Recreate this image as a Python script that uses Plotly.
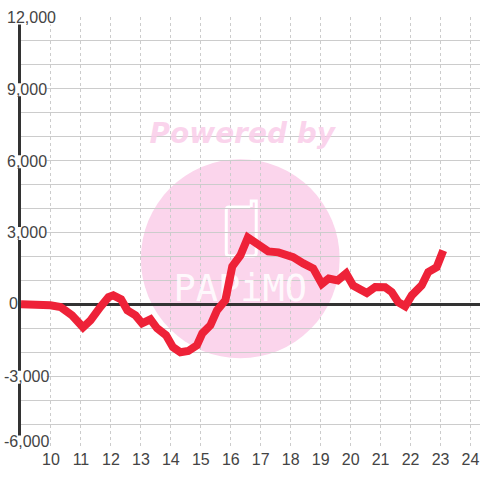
import plotly.graph_objects as go

# Data
hours = [9.0, 9.65, 9.98, 10.32, 10.7, 11.07, 11.32, 11.65, 11.92, 12.08, 12.34, 12.55, 12.82, 13.04,
         13.32, 13.54, 13.84, 14.07, 14.32, 14.58, 14.87, 15.05, 15.32, 15.54, 15.82, 16.05, 16.32,
         16.57, 16.82, 17.25, 17.59, 18.08, 18.42, 18.75, 19.04, 19.27, 19.57, 19.85, 20.08, 20.54,
         20.82, 21.15, 21.37, 21.59, 21.82, 22.04, 22.37, 22.59, 22.87, 23.09]
values = [0, 0, -40, -110, -460, -960, -670, -110, 300, 375, 210, -250, -460, -790,
          -625, -1000, -1290, -1790, -2000, -1950, -1710, -1210, -875, -250, 170, 1580, 2040,
          2790, 2540, 2210, 2170, 1970, 1710, 1500, 850, 1080, 1000, 1290, 790, 470,
          720, 710, 510, 90, -80, 375, 790, 1350, 1550, 2250]
y_tick_text = ["12,000", "9,000", "6,000", "3,000", "0", "-3,000", "-6,000"]
x_ticks = list(range(10, 25))

W, H = 480, 480
L, T, B = 20.5, 16.5, 31.5
X0 = 9.0
X1 = X0 + (W - L) / 30


def px(p):
    return X0 + (p - L) / 30


def py(p):
    return (304.5 - p) * 125 / 3


def pap_x(p):
    return (p - L) / (W - L)


def pap_y(p):
    return 1 - (p - T) / (H - T - B)


fig = go.Figure()

# Watermark text sits above the grid and below the series
fig.add_trace(go.Scatter(x=[px(242)], y=[py(136)], mode="text", text=["Powered by"], hoverinfo="skip",
                         textfont=dict(family="DejaVu Sans", size=28, color="rgba(250,205,233,0.85)",
                                       weight="bold", style="italic"), showlegend=False))
fig.add_trace(go.Scatter(x=[px(240)], y=[py(292)], mode="text", text=["PAPiMO"], hoverinfo="skip",
                         textfont=dict(family="DejaVu Sans Mono", size=37, color="rgba(255,255,255,0.85)"),
                         showlegend=False))
fig.add_trace(go.Scatter(x=hours, y=values, mode="lines",
                         line=dict(color="#ee2238", width=8), showlegend=False))

shapes = [
    dict(type="circle", xref="paper", yref="paper", layer="below", fillcolor="#fbd5ec", line_width=0,
         x0=pap_x(140.5), x1=pap_x(339.5), y0=pap_y(358.5), y1=pap_y(159)),
    dict(type="path", xref="paper", yref="paper", layer="below", line=dict(color="white", width=3),
         path=(f"M {pap_x(250)} {pap_y(207)} L {pap_x(229)} {pap_y(207)} Q {pap_x(226)} {pap_y(207)} {pap_x(226)} {pap_y(210)} "
               f"L {pap_x(226)} {pap_y(253)} Q {pap_x(226)} {pap_y(256)} {pap_x(229)} {pap_y(256)} "
               f"L {pap_x(253)} {pap_y(256)} Q {pap_x(256)} {pap_y(256)} {pap_x(256)} {pap_y(253)} "
               f"L {pap_x(256)} {pap_y(201)} L {pap_x(251)} {pap_y(201)} L {pap_x(251)} {pap_y(207)}")),
]

label_x = [6, 6, 6, 6, 8, 3, 3]
label_y = [16.7, 89, 161, 233, 304, 376.7, 441.7]
gap = [(10, 24, 53), (83, 96, 46), (155, 168, 46), (227, 240, 46), None, (371, 384, 46), (436, 449, 46)]

for g in gap:
    if g:
        shapes.append(dict(type="rect", xref="paper", yref="paper", layer="above", fillcolor="white", line_width=0,
                           x0=pap_x(0), x1=pap_x(g[2]), y0=pap_y(g[1]), y1=pap_y(g[0])))

annotations = [
    dict(text=t, xref="paper", yref="paper", x=pap_x(lx), y=pap_y(ly), xanchor="left", yanchor="middle",
         showarrow=False, borderpad=0, borderwidth=0, font=dict(family="Liberation Sans", size=16, color="#444444"))
    for t, lx, ly in zip(y_tick_text, label_x, label_y)
]

fig.update_layout(
    width=W, height=H, margin=dict(l=L, r=0, t=T, b=B, pad=0), paper_bgcolor="white", plot_bgcolor="white",
    showlegend=False, shapes=shapes, annotations=annotations,
    xaxis=dict(range=[X0, X1], tickvals=x_ticks, ticktext=[str(v) for v in x_ticks], ticks="", showline=False,
               zeroline=False, showgrid=True, gridcolor="#cccccc", gridwidth=1, griddash="3px,3px",
               tickfont=dict(family="Liberation Sans", size=16, color="#444444")),
    yaxis=dict(range=[-6000, 12000], dtick=1000, tick0=0, showticklabels=False, ticks="", showgrid=True,
               gridcolor="#cccccc", gridwidth=1, zeroline=True, zerolinecolor="#333333", zerolinewidth=3,
               showline=True, linecolor="#333333", linewidth=3),
)

fig.write_html("out.html", config=dict(displayModeBar=False),
               post_script="document.body.style.margin='0';document.documentElement.style.overflow='hidden';")
